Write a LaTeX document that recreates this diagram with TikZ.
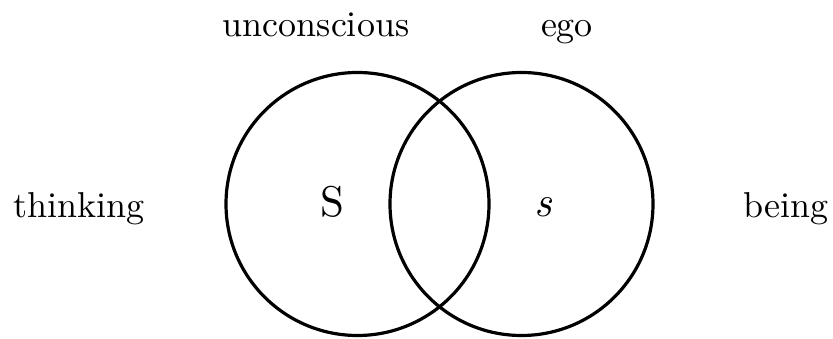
\documentclass[tikz,border=0pt]{standalone}
\usepackage{fontspec}
\setmainfont{lmroman10-regular.otf}[ItalicFont=lmroman10-italic.otf]
\begin{document}
\begin{tikzpicture}[x=1pt,y=1pt,
  ring/.style={circle,draw,line width=3.2pt,minimum size=263pt,inner sep=0pt},
  lbl/.style={anchor=base,inner sep=0pt,font=\fontsize{36}{40}\selectfont},
  big/.style={anchor=base,inner sep=0pt,font=\fontsize{43}{48}\selectfont}]
\useasboundingbox (0,0) rectangle (833,339);
\node[ring] (L) at (357.5,135) {};
\node[ring] (R) at (521.5,135) {};
\node[lbl] (thinking) at (79,121) {thinking};
\node[lbl] (being) at (786,121) {being};
\node[lbl] (unc) at (316,302) {unconscious};
\node[lbl] (ego) at (567,302) {ego};
\node[big] (S) at (332,122) {S};
\node[big] (s) at (543,122) {\itshape s};
\end{tikzpicture}
\end{document}
